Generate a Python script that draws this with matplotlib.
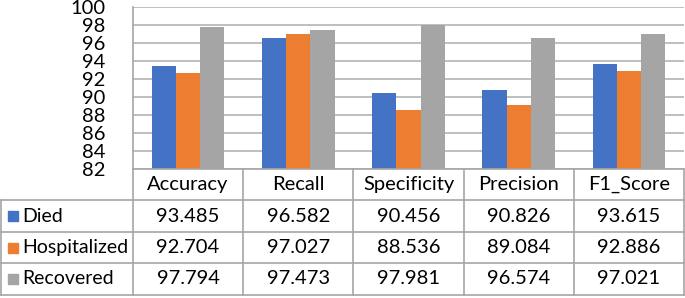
import matplotlib.pyplot as plt
import numpy as np

plt.rcParams['font.family'] = ['Lato', 'DejaVu Sans']

metrics = ['Accuracy', 'Recall', 'Specificity', 'Precision', 'F1_Score']
series = ['Died', 'Hospitalized', 'Recovered']
died = [93.485, 96.582, 90.456, 90.826, 93.615]
hospitalized = [92.704, 97.027, 88.536, 89.084, 92.886]
recovered = [97.794, 97.473, 97.981, 96.574, 97.021]
colors = ['#4472C4', '#ED7D31', '#A5A5A5']

W, H = 685, 298
fig = plt.figure(figsize=(W / 100, H / 100), dpi=100)

# pixel layout of the Excel-style chart
x_left, x_right = 133, 684
y_top, y_plot_bot = 7, 169
row_edges = [169, 200, 232, 263, 295]
grid_c = '#b4b4b4'
line_c = '#a6a6a6'

ax = fig.add_axes([x_left / W, 1 - y_plot_bot / H,
                   (x_right - x_left) / W, (y_plot_bot - y_top) / H])
x = np.arange(len(metrics)) + 0.5
bw = 0.22
for i, (vals, c) in enumerate(zip([died, hospitalized, recovered], colors)):
    ax.bar(x + (i - 1) * bw, vals, bw, color=c, zorder=3)
ax.set_xlim(0, len(metrics))
ax.set_ylim(82, 100)
ax.set_yticks(np.arange(82, 101, 2))
ax.set_xticks([])
ax.yaxis.grid(True, color=grid_c, lw=1.2, zorder=0)
ax.tick_params(axis='y', length=0, pad=20, labelsize=14.5)
for s in ['top', 'right', 'bottom']:
    ax.spines[s].set_visible(False)
ax.spines['left'].set_color(line_c)
ax.spines['left'].set_linewidth(1.2)

# data table under the plot
tb = fig.add_axes([0, 0, 1, 1])
tb.set_xlim(0, W)
tb.set_ylim(H, 0)
tb.axis('off')
col_w = (x_right - x_left) / len(metrics)
col_edges = [x_left + k * col_w for k in range(len(metrics) + 1)]
lk = dict(color=line_c, lw=1.2)
# horizontal lines
tb.plot([x_left, x_right], [row_edges[0]] * 2, **lk)
for y in row_edges[1:]:
    tb.plot([1, x_right], [y, y], **lk)
# vertical lines
tb.plot([1, 1], [row_edges[1], row_edges[-1]], **lk)
for xe in col_edges:
    tb.plot([xe, xe], [row_edges[0], row_edges[-1]], **lk)

for j, m in enumerate(metrics):
    cx = (col_edges[j] + col_edges[j + 1]) / 2
    cy = (row_edges[0] + row_edges[1]) / 2
    tb.text(cx, cy, m, ha='center', va='center', fontsize=14.5)
for i, (name, vals, c) in enumerate(zip(series, [died, hospitalized, recovered], colors)):
    cy = (row_edges[i + 1] + row_edges[i + 2]) / 2
    tb.add_patch(plt.Rectangle((8, cy - 5), 10, 10, color=c))
    tb.text(22, cy, name, ha='left', va='center', fontsize=14)
    for j, v in enumerate(vals):
        cx = (col_edges[j] + col_edges[j + 1]) / 2
        tb.text(cx, cy, f'{v:.3f}', ha='center', va='center', fontsize=14.5)

fig.savefig('out.png', dpi=100)
